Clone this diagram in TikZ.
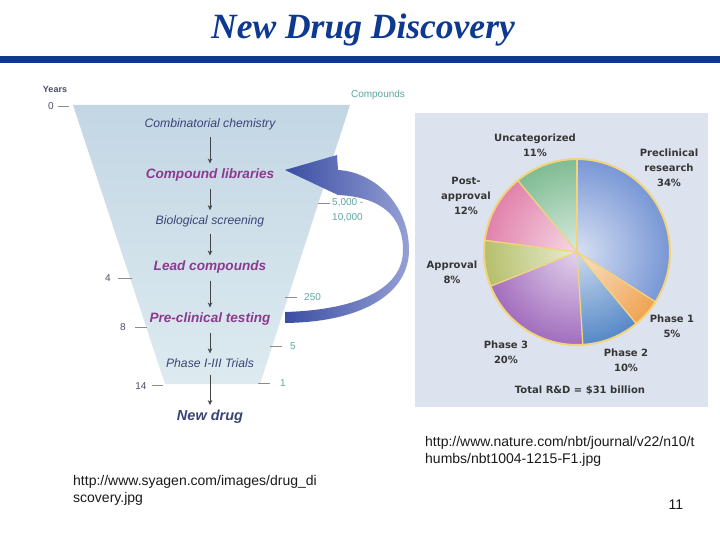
\documentclass[tikz,border=0pt]{standalone}
\usepackage{fontspec}
\setmainfont{Liberation Serif}
\setsansfont{Liberation Sans}
\newfontfamily\pief{DejaVu Sans}
\usetikzlibrary{arrows.meta,fadings}
\definecolor{titleblue}{HTML}{0D3A90}
\definecolor{funtop}{HTML}{C3D6E4}
\definecolor{funbot}{HTML}{DDEBF0}
\definecolor{fdark}{HTML}{3A4577}
\definecolor{fpurp}{HTML}{8B3B8E}
\definecolor{arrowgray}{HTML}{444444}
\definecolor{tickgray}{HTML}{8C8C8C}
\definecolor{ydark}{HTML}{4A4F68}
\definecolor{teal1}{HTML}{5BA7A2}
\definecolor{pieback}{HTML}{DCE2EE}
\definecolor{cpre}{HTML}{7897D6}
\definecolor{cpone}{HTML}{F0A352}
\definecolor{cptwo}{HTML}{5588C8}
\definecolor{cpthree}{HTML}{A26DBE}
\definecolor{cappr}{HTML}{B6C06C}
\definecolor{cpost}{HTML}{E282AC}
\definecolor{cunc}{HTML}{7FBC93}
\definecolor{pieline}{HTML}{F2D47C}
\definecolor{plabc}{HTML}{363636}
\definecolor{urlc}{HTML}{1A1A1A}
\definecolor{arrdark}{HTML}{3A4DA3}
\definecolor{arrlight}{HTML}{95A0D5}
\tikzfading[name=pieglow, inner color=transparent!30, outer color=transparent!100]
\begin{document}
\begin{tikzpicture}[x=1pt,y=-1pt,
  ft/.style={font=\sffamily\itshape\fontsize{12.2}{14}\selectfont, text=fdark, inner sep=1pt},
  fb/.style={font=\sffamily\bfseries\itshape\fontsize{13.6}{16}\selectfont, text=fpurp, inner sep=1pt},
  farrow/.style={draw=arrowgray, line width=0.6pt, -{Stealth[length=5pt,width=4.5pt]}, shorten <=6pt, shorten >=4pt},
  tickline/.style={draw=tickgray, line width=0.9pt},
  ylab/.style={font=\sffamily\fontsize{10}{12}\selectfont, text=ydark, inner sep=0pt},
  clab/.style={font=\sffamily\fontsize{10}{15}\selectfont, text=teal1, inner sep=0pt, align=left},
  plab/.style={font=\pief\bfseries\fontsize{10}{15}\selectfont, text=plabc, align=center, inner sep=0pt},
  urltext/.style={font=\sffamily\fontsize{14}{17}\selectfont, text=urlc, align=left, inner sep=0pt, anchor=north west},
  sepline/.style={draw=pieline, line width=1.3pt},
]
\useasboundingbox (0,0) rectangle (720,540);
\fill[white] (0,0) rectangle (720,540);

% title and rule
\node[font=\rmfamily\bfseries\itshape\fontsize{35.5}{40}\selectfont, text=titleblue, anchor=base, inner sep=0pt] (title) at (363,39) {New Drug Discovery};
\fill[titleblue] (0,56) rectangle (720,63);

% funnel
\shade[top color=funtop, bottom color=funbot] (73,105) -- (350,105) -- (260,384) -- (165,384) -- cycle;

\node[font=\sffamily\bfseries\fontsize{9}{11}\selectfont, text=ydark, inner sep=0pt] (years) at (55,89) {Years};
\node[font=\sffamily\fontsize{10}{12}\selectfont, text=teal1, inner sep=0pt] (compounds) at (378,95) {Compounds};

% stage texts
\node[ft] (comb) at (210,124) {Combinatorial chemistry};
\node[fb] (libs) at (210,175) {Compound libraries};
\node[ft] (bio) at (210,221) {Biological screening};
\node[fb] (lead) at (210,267) {Lead compounds};
\node[fb] (pre) at (210,319) {Pre-clinical testing};
\node[ft] (phase) at (210,363) {Phase I-III Trials};
\node[fb, text=fdark, font=\sffamily\bfseries\itshape\fontsize{14.5}{17}\selectfont] (newdrug) at (210,417) {New drug};

\draw[farrow] (comb) -- (libs);
\draw[farrow] (libs) -- (bio);
\draw[farrow] (bio) -- (lead);
\draw[farrow] (lead) -- (pre);
\draw[farrow] (pre) -- (phase);
\draw[farrow] (phase) -- (newdrug);

% year labels and ticks
\node[ylab] (y0) at (51,106) {0};
\node[ylab] (y4) at (108,278) {4};
\node[ylab] (y8) at (123,327) {8};
\node[ylab] (y14) at (141,386) {14};
\coordinate (t0a) at (58,106); \coordinate (t0b) at (69,106);
\coordinate (t4a) at (118,278); \coordinate (t4b) at (132,278);
\coordinate (t8a) at (135,327); \coordinate (t8b) at (147,327);
\coordinate (t14a) at (152,385); \coordinate (t14b) at (163,385);
\draw[tickline] (t0a) -- (t0b);
\draw[tickline] (t4a) -- (t4b);
\draw[tickline] (t8a) -- (t8b);
\draw[tickline] (t14a) -- (t14b);

% compound counts and ticks
\node[clab, anchor=west] (c5k) at (332,210.5) {5,000 -\\10,000};
\node[clab, anchor=west] (c250) at (304,297) {250};
\node[clab, anchor=west] (c5) at (290,346) {5};
\node[clab, anchor=west] (c1) at (280,383) {1};
\coordinate (r5ka) at (318,203); \coordinate (r5kb) at (330,203);
\coordinate (r250a) at (285,297); \coordinate (r250b) at (297,297);
\coordinate (r5a) at (270,346); \coordinate (r5b) at (282,346);
\coordinate (r1a) at (258,383); \coordinate (r1b) at (270,383);
\draw[tickline] (r5ka) -- (r5kb);
\draw[tickline] (r250a) -- (r250b);
\draw[tickline] (r5a) -- (r5b);
\draw[tickline] (r1a) -- (r1b);

% big curved recycle arrow
\shade[left color=arrdark, right color=arrlight]
  (285,170) -- (337,155) -- (338,170)
  .. controls (375,172) and (409,205) .. (409,250)
  .. controls (409,292) and (365,322) .. (285,323)
  -- (285,312)
  .. controls (355,310) and (403,290) .. (403,250)
  .. controls (403,215) and (380,197) .. (338,195)
  -- cycle;

% pie panel
\fill[pieback] (415,113) rectangle (708,407);
\begin{scope}[shift={(577,252)}, yscale=-1]
  \fill[cpre] (0,0) -- (90:93) arc[start angle=90, end angle=-32.4, radius=93] -- cycle;
  \fill[cpone] (0,0) -- (-32.4:93) arc[start angle=-32.4, end angle=-50.4, radius=93] -- cycle;
  \fill[cptwo] (0,0) -- (-50.4:93) arc[start angle=-50.4, end angle=-86.4, radius=93] -- cycle;
  \fill[cpthree] (0,0) -- (-86.4:93) arc[start angle=-86.4, end angle=-158.4, radius=93] -- cycle;
  \fill[cappr] (0,0) -- (-158.4:93) arc[start angle=-158.4, end angle=-187.2, radius=93] -- cycle;
  \fill[cpost] (0,0) -- (-187.2:93) arc[start angle=-187.2, end angle=-230.4, radius=93] -- cycle;
  \fill[cunc] (0,0) -- (-230.4:93) arc[start angle=-230.4, end angle=-270, radius=93] -- cycle;
  \fill[white, path fading=pieglow] (0,0) circle[radius=93];
  \foreach \a in {90,-32.4,-50.4,-86.4,-158.4,-187.2,-230.4}
    \draw[sepline] (0,0) -- (\a:93);
  \draw[draw=pieline, line width=2pt] (0,0) circle[radius=93];
\end{scope}

% pie labels
\node[plab] (lunc) at (535,145) {Uncategorized\\11\%};
\node[plab] (lpre) at (669,168) {Preclinical\\research\\34\%};
\node[plab] (lpost) at (466,196) {Post-\\approval\\12\%};
\node[plab] (lappr) at (452,272) {Approval\\8\%};
\node[plab] (lpone) at (672,326) {Phase 1\\5\%};
\node[plab] (lptwo) at (626,360) {Phase 2\\10\%};
\node[plab] (lpthree) at (506,352) {Phase 3\\20\%};
\node[plab] (total) at (580,390) {Total R\&D = \$31 billion};

% source urls and page number
\node[urltext] (url1) at (425,436) {http://www.nature.com/nbt/journal/v22/n10/t\\humbs/nbt1004-1215-F1.jpg};
\node[urltext] (url2) at (73,475) {http://www.syagen.com/images/drug\_di\\scovery.jpg};
\node[font=\sffamily\fontsize{14}{17}\selectfont, text=urlc, inner sep=0pt] (pagenum) at (676,505) {11};
\end{tikzpicture}
\end{document}
